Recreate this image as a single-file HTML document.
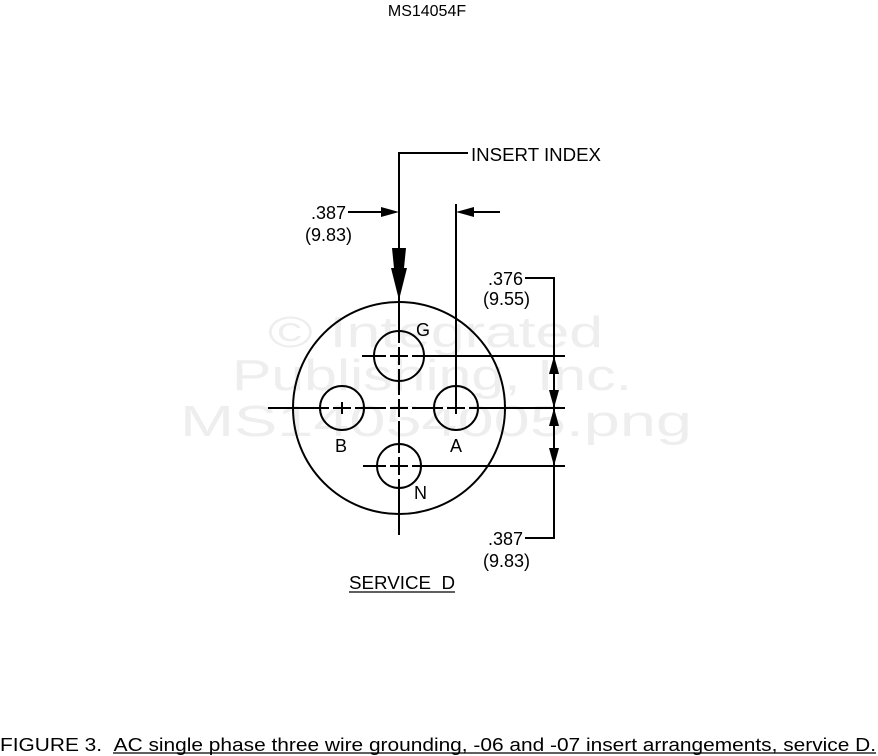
<!DOCTYPE html>
<html><head><style>html,body{margin:0;padding:0;background:#fff}svg{display:block}</style></head>
<body>
<svg width="878" height="756" viewBox="0 0 878 756" xmlns="http://www.w3.org/2000/svg" font-family="Liberation Sans, sans-serif">
<rect width="878" height="756" fill="#fff"/>
<text x="427" y="16" font-size="16" text-anchor="middle">MS14054F</text>
<g fill="#eeeeee" font-size="44">
<text x="268" y="347" textLength="335" lengthAdjust="spacingAndGlyphs">© Integrated</text>
<text x="232" y="390" textLength="400" lengthAdjust="spacingAndGlyphs">Publishing, Inc.</text>
<text x="180" y="436" textLength="512" lengthAdjust="spacingAndGlyphs">MS14054005.png</text>
</g>
<g stroke="#000" stroke-width="2" fill="none">
<circle cx="399" cy="408" r="106"/>
<circle cx="399" cy="356" r="25"/>
<circle cx="342" cy="408" r="22"/>
<circle cx="456" cy="408" r="22"/>
<circle cx="399" cy="466" r="22"/>
<polyline points="468,153 399,153 399,535"/>
<line x1="268" y1="408" x2="565" y2="408"/>
<line x1="362" y1="356" x2="565" y2="356"/>
<line x1="363" y1="466" x2="565" y2="466"/>
<line x1="456" y1="204" x2="456" y2="408"/>
<polyline points="525,278 554,278 554,538 525,538"/>
<line x1="348" y1="212" x2="390" y2="212"/>
<line x1="466" y1="212" x2="500" y2="212"/>
</g>
<g stroke="#fff" stroke-width="3">
<line x1="399" y1="343" x2="399" y2="347"/><line x1="399" y1="365" x2="399" y2="369"/>
<line x1="386" y1="356" x2="390" y2="356"/><line x1="408" y1="356" x2="412" y2="356"/>
<line x1="399" y1="453" x2="399" y2="457"/><line x1="399" y1="475" x2="399" y2="479"/>
<line x1="386" y1="466" x2="390" y2="466"/><line x1="408" y1="466" x2="412" y2="466"/>
<line x1="329" y1="408" x2="333" y2="408"/><line x1="351" y1="408" x2="355" y2="408"/>
<line x1="443" y1="408" x2="447" y2="408"/><line x1="465" y1="408" x2="469" y2="408"/>
<line x1="386" y1="408" x2="390" y2="408"/><line x1="408" y1="408" x2="412" y2="408"/>
<line x1="399" y1="395" x2="399" y2="399"/><line x1="399" y1="417" x2="399" y2="421"/>
</g>
<g stroke="#000" stroke-width="2">
<line x1="342" y1="402" x2="342" y2="414"/>
<line x1="456" y1="402" x2="456" y2="414"/>
</g>
<g fill="#000">
<polygon points="399,212 381,207 381,217"/>
<polygon points="456,212 474,207 474,217"/>
<polygon points="392,248 406,248 404,268 407,268 399,300 391,268 394,268"/>
<polygon points="554,356 549,374 559,374"/>
<polygon points="554,408 549,390 559,390"/>
<polygon points="554,408 549,426 559,426"/>
<polygon points="554,466 549,448 559,448"/>
</g>
<g font-size="18" fill="#000">
<text x="471" y="161" textLength="130" lengthAdjust="spacingAndGlyphs">INSERT INDEX</text>
<text x="346" y="219" text-anchor="end">.387</text>
<text x="352" y="241" text-anchor="end">(9.83)</text>
<text x="523" y="285" text-anchor="end">.376</text>
<text x="530" y="305" text-anchor="end">(9.55)</text>
<text x="523" y="545" text-anchor="end">.387</text>
<text x="530" y="567" text-anchor="end">(9.83)</text>
<text x="416" y="336">G</text>
<text x="335" y="452">B</text>
<text x="450" y="452">A</text>
<text x="414" y="499">N</text>
<text x="349" y="589" textLength="106" lengthAdjust="spacingAndGlyphs">SERVICE&#160;&#160;D</text>
</g>
<line x1="349" y1="592" x2="455" y2="592" stroke="#000" stroke-width="1.3"/>
<text x="0" y="751" font-size="18" textLength="876" lengthAdjust="spacingAndGlyphs">FIGURE 3.&#160;&#160;AC single phase three wire grounding, -06 and -07 insert arrangements, service D.</text>
<line x1="113" y1="753" x2="876" y2="753" stroke="#000" stroke-width="1.3"/>
</svg>
</body></html>
